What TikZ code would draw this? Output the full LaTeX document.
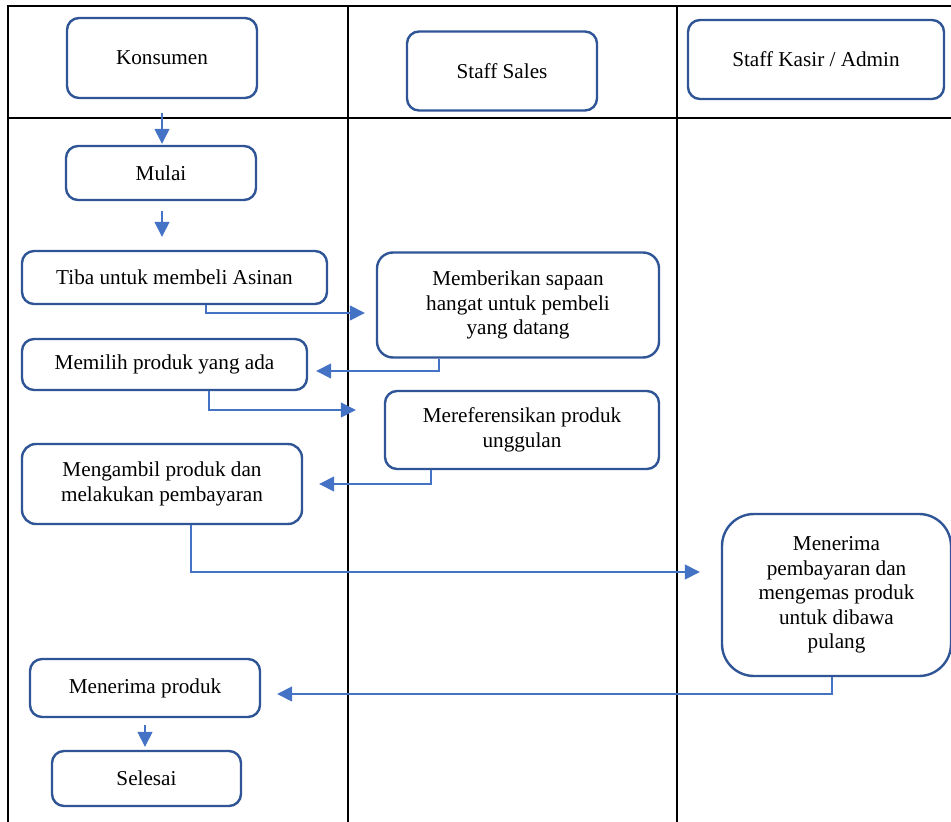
\documentclass[tikz,border=0pt]{standalone}
\usepackage{fontspec}
\setmainfont{Liberation Serif}
\usetikzlibrary{arrows.meta, positioning, calc}
\usepackage{xcolor}

\begin{document}
\begin{tikzpicture}[
    x=0.5pt, y=-0.5pt,
    >={Triangle[length=7.5pt, width=7.5pt]},
    font=\fontsize{10.6}{12.2}\selectfont
]

\definecolor{boxborder}{HTML}{2F5597}
\definecolor{flowline}{HTML}{4472C4}

\tikzset{
    stepbox/.style={
        rectangle,
        rounded corners=6pt,
        draw=boxborder,
        line width=1.2pt,
        fill=white,
        text=black,
        align=center,
        inner sep=2pt
    },
    flow/.style={
        ->,
        draw=flowline,
        line width=0.75pt
    },
    lane/.style={
        draw=black,
        line width=1pt
    }
}

\useasboundingbox (0,0) rectangle (951,822);

% Lanes
\draw[lane] (951,6) -- (8,6) -- (8,822);
\draw[lane] (8,118) -- (951,118);
\draw[lane] (348,6) -- (348,822);
\draw[lane] (677,6) -- (677,822);

% Nodes
\node[stepbox, minimum width=95pt, minimum height=40pt] (konsumen) at (162,58) {Konsumen};
\node[stepbox, minimum width=95pt, minimum height=39.5pt] (sales) at (502,71) {Staff Sales};
\node[stepbox, minimum width=128pt, minimum height=39.5pt] (kasir) at (816,59.5) {Staff Kasir / Admin};

\node[stepbox, minimum width=95pt, minimum height=27pt] (mulai) at (161,173) {Mulai};
\node[stepbox, minimum width=152.5pt, minimum height=26.5pt] (tiba) at (174.5,277.5) {Tiba untuk membeli Asinan};
\node[stepbox, rounded corners=8pt, minimum width=141pt, minimum height=52.5pt] (sapa) at (518,305) {Memberikan sapaan\\hangat untuk pembeli\\yang datang};
\node[stepbox, minimum width=142.5pt, minimum height=25.5pt] (pilih) at (164.5,364.5) {Memilih produk yang ada};
\node[stepbox, minimum width=137pt, minimum height=39pt] (referensi) at (522,430) {Mereferensikan produk\\unggulan};
\node[stepbox, rounded corners=7pt, minimum width=140pt, minimum height=40pt] (ambil) at (162,484) {Mengambil produk dan\\melakukan pembayaran};
\node[stepbox, rounded corners=16pt, minimum width=114.5pt, minimum height=81pt] (bayar) at (836.5,595) {Menerima\\pembayaran dan\\mengemas produk\\untuk dibawa\\pulang};
\node[stepbox, minimum width=115pt, minimum height=29pt] (produk) at (145,688) {Menerima produk};
\node[stepbox, minimum width=94.5pt, minimum height=27.5pt] (selesai) at (146.5,778.5) {Selesai};

% Edges down the Konsumen lane
\draw[flow, shorten <=7pt, shorten >=0.5pt] (konsumen.south) -- (konsumen.south |- mulai.north);
\draw[flow, shorten <=5pt, shorten >=6.5pt] (mulai.south -| konsumen.south) -- (konsumen.south |- tiba.north);

% Edges between Konsumen and Staff Sales
\draw[flow, shorten >=5.5pt] (tiba.south -| 206,0) |- (sapa.west |- 0,313);
\draw[flow, shorten >=4pt] (sapa.south -| 439,0) |- (pilih.east |- 0,371);
\draw[flow, shorten >=14pt] (pilih.south -| 209,0) |- (referensi.west |- 0,410);
\draw[flow, shorten >=8pt] (referensi.south -| 431,0) |- (ambil.east |- 0,484);

% Edges between Konsumen and Staff Kasir
\draw[flow, shorten >=10.5pt] (ambil.south -| 191,0) |- (bayar.west |- 0,572);
\draw[flow, shorten >=8pt] (bayar.south -| 832,0) |- (produk.east |- 0,694);

% Last step
\draw[flow, shorten <=3.5pt, shorten >=1.5pt] (produk.south) -- (produk.south |- selesai.north);

\end{tikzpicture}
\end{document}
